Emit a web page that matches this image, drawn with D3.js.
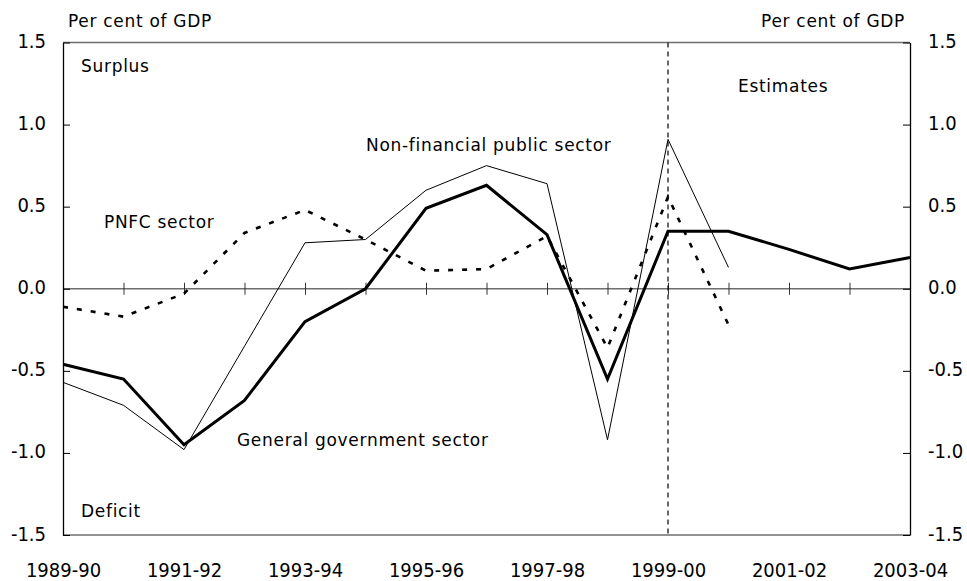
<!DOCTYPE html>
<html lang="en">
<head>
<meta charset="utf-8">
<title>Sector balances</title>
<script src="https://cdn.jsdelivr.net/npm/d3@7"></script>
<style>
  body { margin: 0; background: #fff; }
  .tick text { font-family: "DejaVu Sans Condensed", "DejaVu Sans", sans-serif; font-size: 20px; fill: #000; }
  .note { font-family: "DejaVu Sans", sans-serif; font-size: 17px; letter-spacing: 0.7px; fill: #000; }
  .line { fill: none; stroke: #000; stroke-linejoin: miter; }
</style>
</head>
<body>
<script>
// categories (financial years)
var years = ["1989-90","1990-91","1991-92","1992-93","1993-94","1994-95","1995-96",
             "1996-97","1997-98","1998-99","1999-00","2000-01","2001-02","2002-03","2003-04"];
var yearLabels = ["1989-90","1991-92","1993-94","1995-96","1997-98","1999-00","2001-02","2003-04"];
var yTicks = [-1.5, -1.0, -0.5, 0.0, 0.5, 1.0, 1.5];

// per cent of GDP
var generalGov = [-0.46, -0.55, -0.95, -0.68, -0.20, 0.00, 0.49, 0.63, 0.33, -0.55, 0.35, 0.35, 0.24, 0.12, 0.19];
var nonFinPublic = [-0.57, -0.71, -0.98, -0.35, 0.28, 0.30, 0.60, 0.75, 0.64, -0.92, 0.91, 0.13];
var pnfc = [-0.11, -0.17, -0.03, 0.34, 0.48, 0.30, 0.11, 0.12, 0.32, -0.36, 0.56, -0.22];
var estimatesFrom = "1999-00";

var W = 967, H = 581;
var plotL = 63, plotR = 910, plotT = 42.5, plotB = 535;

var svg = d3.select("body").append("svg")
    .attr("width", W)
    .attr("height", H);

var x = d3.scalePoint().domain(years).range([plotL, plotR]);
var y = d3.scaleLinear().domain([-1.5, 1.5]).range([plotB, plotT]);

var fmt = function(d) { return d.toFixed(1); };

// top and bottom frame lines
svg.append("line").attr("x1", plotL).attr("x2", plotR).attr("y1", plotT).attr("y2", plotT)
    .attr("stroke", "#6e6e6e").attr("stroke-width", 1.5);
svg.append("line").attr("x1", plotL).attr("x2", plotR).attr("y1", plotB).attr("y2", plotB)
    .attr("stroke", "#6e6e6e").attr("stroke-width", 1.5);

// zero line
svg.append("line").attr("x1", plotL).attr("x2", plotR).attr("y1", y(0)).attr("y2", y(0))
    .attr("stroke", "#6e6e6e").attr("stroke-width", 1.5);

// ticks crossing the zero line
svg.append("g")
    .attr("transform", "translate(0," + (y(0) - 6) + ")")
    .call(d3.axisBottom(x).tickSize(12).tickSizeOuter(0).tickFormat(""))
    .call(function(g) {
        g.select(".domain").remove();
        g.selectAll(".tick line").attr("stroke", "#333");
    });

// year labels along the bottom
svg.append("g")
    .attr("transform", "translate(0," + plotB + ")")
    .call(d3.axisBottom(x).tickValues(yearLabels).tickSize(0).tickPadding(28))
    .call(function(g) { g.select(".domain").remove(); });

// left and right value axes
svg.append("g")
    .attr("class", "yaxis")
    .attr("transform", "translate(" + plotL + ",0)")
    .call(d3.axisLeft(y).tickValues(yTicks).tickFormat(fmt).tickSize(-7).tickSizeOuter(0).tickPadding(17));
svg.append("g")
    .attr("class", "yaxis")
    .attr("transform", "translate(" + plotR + ",0)")
    .call(d3.axisRight(y).tickValues(yTicks).tickFormat(fmt).tickSize(-7).tickSizeOuter(0).tickPadding(18));

svg.selectAll(".domain").attr("stroke-width", 1.3);
svg.selectAll(".yaxis .tick text").attr("dy", "0.25em");

// estimates divider
svg.append("line")
    .attr("x1", x(estimatesFrom)).attr("x2", x(estimatesFrom))
    .attr("y1", plotT).attr("y2", plotB)
    .attr("stroke", "#000").attr("stroke-width", 1.2)
    .attr("stroke-dasharray", "5,4");

var lineGen = d3.line()
    .x(function(d, i) { return x(years[i]); })
    .y(function(d) { return y(d); });

svg.append("path").attr("class", "line")
    .attr("d", lineGen(nonFinPublic))
    .attr("stroke-width", 1);

svg.append("path").attr("class", "line")
    .attr("d", lineGen(pnfc))
    .attr("stroke-width", 2.6)
    .attr("stroke-dasharray", "5,9");

svg.append("path").attr("class", "line")
    .attr("d", lineGen(generalGov))
    .attr("stroke-width", 3);

// text annotations
var notes = [
    {t: "Per cent of GDP", x: 68, y: 27, a: "start"},
    {t: "Per cent of GDP", x: 905, y: 27, a: "end"},
    {t: "Surplus", x: 81, y: 72, a: "start"},
    {t: "Deficit", x: 81, y: 517, a: "start"},
    {t: "PNFC sector", x: 104, y: 228, a: "start"},
    {t: "Non-financial public sector", x: 366, y: 151, a: "start"},
    {t: "General government sector", x: 237, y: 446, a: "start"},
    {t: "Estimates", x: 738, y: 92, a: "start"}
];
svg.selectAll(".note")
    .data(notes)
    .enter().append("text")
    .attr("class", "note")
    .attr("x", function(d) { return d.x; })
    .attr("y", function(d) { return d.y; })
    .attr("text-anchor", function(d) { return d.a; })
    .text(function(d) { return d.t; });
</script>
</body>
</html>
